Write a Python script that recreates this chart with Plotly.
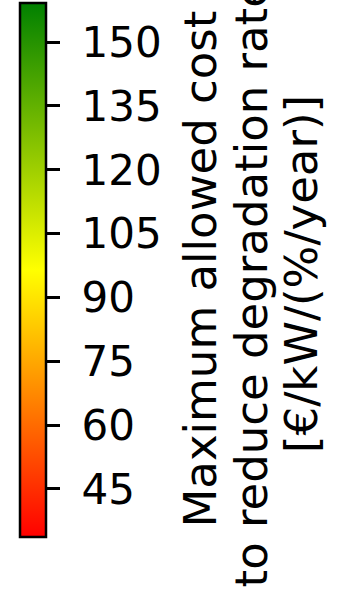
import plotly.graph_objects as go

# Data
cmin_val = 33.7
cmax_val = 159.2
tick_values = [45, 60, 75, 90, 105, 120, 135, 150]
tick_labels = ["45", "60", "75", "90", "105", "120", "135", "150"]
colorscale_colors = ["red", "yellow", "green"]
title_lines = ["Maximum allowed cost", "to reduce degradation rate", "[€/kW/(%/year)]"]

W, H = 339, 592
colorscale = [[i / (len(colorscale_colors) - 1), c] for i, c in enumerate(colorscale_colors)]

fig = go.Figure()
fig.add_trace(go.Scatter(
    x=[None], y=[None], mode="markers",
    marker=dict(
        color=[cmin_val, cmax_val], cmin=cmin_val, cmax=cmax_val,
        colorscale=colorscale, showscale=True,
        colorbar=dict(
            x=20 / W, xanchor="left", xpad=0,
            y=1 - 3 / H, yanchor="top", ypad=0,
            lenmode="pixels", len=534,
            thicknessmode="pixels", thickness=26,
            outlinewidth=2.5, outlinecolor="black",
            tickmode="array", tickvals=tick_values,
            ticktext=["\u00a0" + t for t in tick_labels],
            ticks="outside", ticklen=13, tickwidth=2.5, tickcolor="black",
            tickfont=dict(family="DejaVu Sans", size=42, color="black"),
        ),
    ),
    showlegend=False,
))

line_centers_px = [200, 251, 302]
line_bottoms_px = [530, 590, 455]
for txt, cx, by in zip(title_lines, line_centers_px, line_bottoms_px):
    fig.add_annotation(
        text=txt, textangle=-90, showarrow=False,
        xref="paper", yref="paper",
        x=cx / W, y=1 - by / H, xanchor="center", yanchor="bottom",
        font=dict(family="DejaVu Sans", size=45, color="black"),
    )

fig.update_layout(
    width=W, height=H,
    margin=dict(l=0, r=0, t=0, b=0),
    paper_bgcolor="white", plot_bgcolor="white",
    xaxis=dict(visible=False), yaxis=dict(visible=False),
)
fig.write_html("out.html")
